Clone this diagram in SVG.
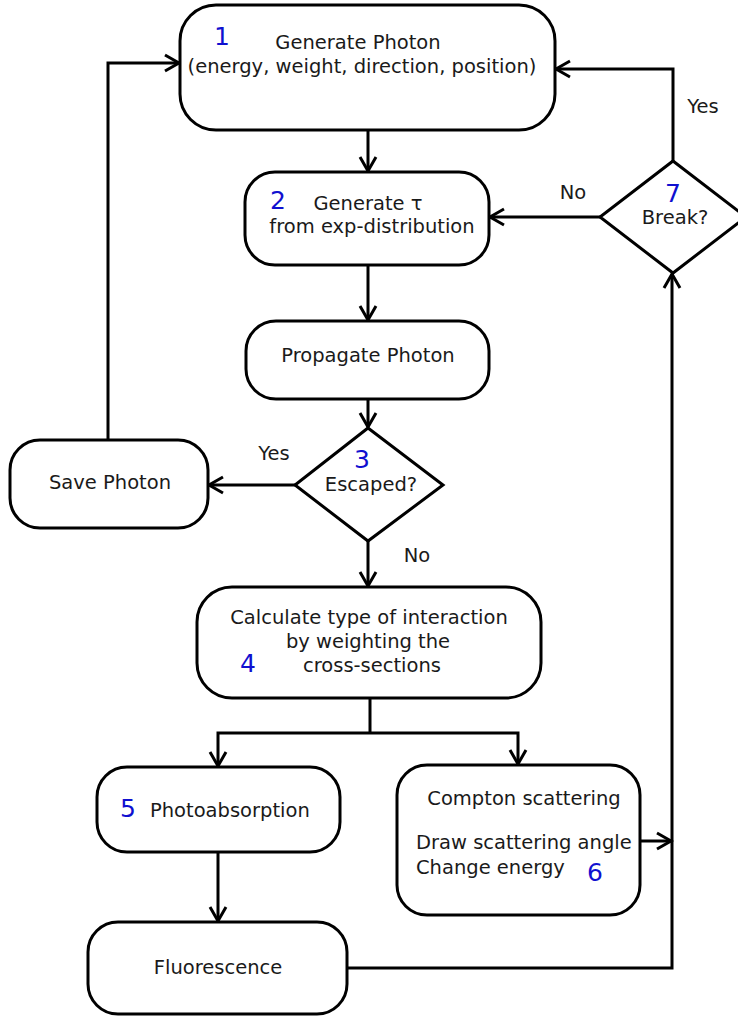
<svg xmlns="http://www.w3.org/2000/svg" width="738" height="1016" viewBox="0 0 738 1016">
<style>
.box{fill:#fff;stroke:#000;stroke-width:3}
.t{font-family:"DejaVu Sans",sans-serif;font-size:19.5px;fill:#1a1a1a}
.m{text-anchor:middle}
.n{font-family:"DejaVu Sans",sans-serif;font-size:25px;fill:#1010d0}
.c{fill:none;stroke:#000;stroke-width:3}
</style>
<defs>
<marker id="ah" markerUnits="userSpaceOnUse" markerWidth="20" markerHeight="20" viewBox="-16 -10 20 20" refX="0" refY="0" orient="auto">
<path d="M-14,-8 L0,0 L-14,8" fill="none" stroke="#000" stroke-width="3"/>
</marker>
</defs>
<rect width="738" height="1016" fill="#fff"/>
<g id="connectors">
<path class="c" d="M368,130 V171" marker-end="url(#ah)"/>
<path class="c" d="M368,265 V320" marker-end="url(#ah)"/>
<path class="c" d="M368,399 V427" marker-end="url(#ah)"/>
<path class="c" d="M295,485 H209" marker-end="url(#ah)"/>
<path class="c" d="M108,440 V63 H179" marker-end="url(#ah)"/>
<path class="c" d="M368,541 V586" marker-end="url(#ah)"/>
<path class="c" d="M370,698 V733"/>
<path class="c" d="M370,733 H218 V766" marker-end="url(#ah)"/>
<path class="c" d="M370,733 H518 V764" marker-end="url(#ah)"/>
<path class="c" d="M218,852 V921" marker-end="url(#ah)"/>
<path class="c" d="M347,968 H672 V274" marker-end="url(#ah)"/>
<path class="c" d="M640,841 H671" marker-end="url(#ah)"/>
<path class="c" d="M600,217 H490" marker-end="url(#ah)"/>
<path class="c" d="M673,161 V69 H556" marker-end="url(#ah)"/>
</g>
<g id="n1">
<rect class="box" x="180" y="5" width="375" height="125" rx="36"/>
<text class="n m" x="222" y="45">1</text>
<text class="t m" x="358" y="49">Generate Photon</text>
<text class="t m" x="362" y="73">(energy, weight, direction, position)</text>
</g>
<g id="n2">
<rect class="box" x="245" y="172" width="244" height="93" rx="30"/>
<text class="n m" x="278" y="209">2</text>
<text class="t m" x="368" y="210">Generate τ</text>
<text class="t m" x="372" y="233">from exp-distribution</text>
</g>
<g id="n-propagate">
<rect class="box" x="246" y="321" width="243" height="78" rx="30"/>
<text class="t m" x="368" y="362">Propagate Photon</text>
</g>
<g id="n3">
<polygon class="box" points="368,428 443,485 368,541 295,485"/>
<text class="n m" x="362" y="468">3</text>
<text class="t m" x="371" y="491">Escaped?</text>
</g>
<g id="n-save">
<rect class="box" x="10" y="440" width="198" height="88" rx="30"/>
<text class="t m" x="110" y="489">Save Photon</text>
</g>
<g id="n4">
<rect class="box" x="197" y="587" width="344" height="111" rx="35"/>
<text class="t m" x="369" y="624">Calculate type of interaction</text>
<text class="t m" x="368" y="648">by weighting the</text>
<text class="t m" x="372" y="672">cross-sections</text>
<text class="n m" x="248" y="672">4</text>
</g>
<g id="n5">
<rect class="box" x="97" y="767" width="243" height="85" rx="30"/>
<text class="n m" x="128" y="817">5</text>
<text class="t" x="150" y="817">Photoabsorption</text>
</g>
<g id="n-fluorescence">
<rect class="box" x="88" y="922" width="259" height="92" rx="30"/>
<text class="t m" x="218" y="974">Fluorescence</text>
</g>
<g id="n6">
<rect class="box" x="397" y="765" width="243" height="150" rx="30"/>
<text class="t m" x="524" y="805">Compton scattering</text>
<text class="t" x="416" y="849">Draw scattering angle</text>
<text class="t" x="416" y="874">Change energy</text>
<text class="n m" x="595" y="881">6</text>
</g>
<g id="n7">
<polygon class="box" points="673,161 746,217 673,273 600,217"/>
<text class="n m" x="673" y="202">7</text>
<text class="t m" x="675" y="224">Break?</text>
</g>
<g id="labels">
<text class="t m" x="703" y="113">Yes</text>
<text class="t m" x="573" y="199">No</text>
<text class="t m" x="274" y="460">Yes</text>
<text class="t m" x="417" y="562">No</text>
</g>
</svg>
